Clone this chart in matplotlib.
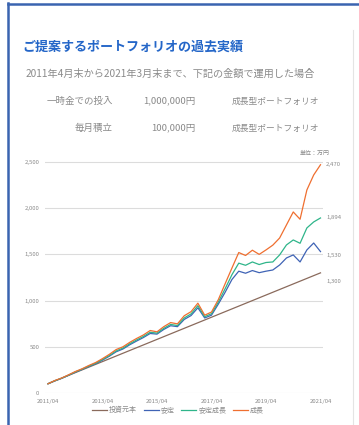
import numpy as np
import matplotlib
matplotlib.use("Agg")
from matplotlib import pyplot as plt
from matplotlib.lines import Line2D

plt.rcParams['font.family'] = ['Noto Sans CJK JP', 'DejaVu Sans']

# months since 2011/04, quarterly samples
months = list(range(0, 121, 3))

# valuation in 万円
principal = [100, 130, 160, 190, 220, 250, 280, 310, 340, 370, 400, 430, 460, 490,
             520, 550, 580, 610, 640, 670, 700, 730, 760, 790, 820, 850, 880, 910,
             940, 970, 1000, 1030, 1060, 1090, 1120, 1150, 1180, 1210, 1240, 1270, 1300]
stable = [100, 132, 158, 191, 225, 255, 288, 318, 356, 398, 446, 476, 522, 562,
          600, 644, 637, 688, 728, 718, 796, 838, 922, 812, 842, 962, 1090, 1228,
          1318, 1296, 1325, 1302, 1318, 1331, 1385, 1461, 1494, 1418, 1548, 1623, 1530]
balanced = [100, 133, 160, 193, 228, 258, 292, 322, 362, 405, 455, 486, 533, 574,
            612, 657, 648, 700, 742, 730, 812, 856, 945, 826, 858, 984, 1128, 1280,
            1405, 1382, 1418, 1390, 1412, 1418, 1494, 1602, 1656, 1620, 1786, 1851, 1894]
growth = [100, 135, 162, 196, 232, 262, 298, 330, 372, 418, 470, 500, 548, 590,
          628, 676, 662, 718, 762, 748, 836, 880, 972, 842, 876, 1010, 1182, 1352,
          1520, 1488, 1545, 1500, 1548, 1600, 1677, 1818, 1959, 1880, 2197, 2359, 2470]

series_names = ['投資元本', '安定', '安定成長', '成長']
series_colors = ['#8a6a5c', '#3f63b5', '#2fb58a', '#ef6f30']

xtick_pos = [0, 24, 48, 72, 96, 120]
xtick_labels = ['2011/04', '2013/04', '2015/04', '2017/04', '2019/04', '2021/04']
yticks = [0, 500, 1000, 1500, 2000, 2500]

W, H = 359, 425
fig = plt.figure(figsize=(W / 100, H / 100), dpi=100)

def fx(px):
    return px / W

def fy(py):
    return 1 - py / H

# card border
fig.add_artist(Line2D([fx(8), fx(8)], [fy(3), 0], color='#3a64b0', lw=1.8))
fig.add_artist(Line2D([fx(8), 1], [fy(4), fy(4)], color='#3a64b0', lw=1.8))
fig.add_artist(Line2D([fx(353), fx(353)], [fy(30), 0], color='#e4e4e4', lw=0.8))

grey = '#8a8a8a'
fig.text(fx(22), fy(46), 'ご提案するポートフォリオの過去実績', fontsize=9.4,
         fontweight='bold', color='#2466c8', va='center', ha='left')
fig.text(fx(26), fy(74), '2011年4月末から2021年3月末まで、下記の金額で運用した場合',
         fontsize=7.3, color=grey, va='center', ha='left')
rows = [('一時金での投入', '1,000,000円', '成長型ポートフォリオ', 101),
        ('毎月積立', '100,000円', '成長型ポートフォリオ', 128)]
for a, b, c, py in rows:
    fig.text(fx(113), fy(py), a, fontsize=6.8, color=grey, va='center', ha='right')
    fig.text(fx(195), fy(py), b, fontsize=6.8, color=grey, va='center', ha='right')
    fig.text(fx(232), fy(py), c, fontsize=6.3, color=grey, va='center', ha='left')

L, R, B, T = 45, 323, 393, 148
ax = fig.add_axes([fx(L), fy(B), fx(R) - fx(L), fy(T) - fy(B)])
ax.set_xlim(-1.32, 121.1)
ax.set_ylim(0, 2651)

for s in ax.spines.values():
    s.set_visible(False)
ax.set_yticks(yticks)
ax.set_yticklabels([f'{v:,}' for v in yticks])
ax.set_xticks(xtick_pos)
ax.set_xticklabels(xtick_labels)
ax.tick_params(length=0, labelsize=4.3, colors=grey, pad=4)
ax.grid(axis='y', color='#dcdcdc', lw=0.8)
ax.set_axisbelow(True)

data = [principal, stable, balanced, growth]
handles = []
for vals, name, c in zip(data, series_names, series_colors):
    h, = ax.plot(months, vals, color=c, lw=0.9, label=name)
    handles.append(h)

# end-of-period values
label_offsets = [-6, -3, 0, 0]
for vals, dy in zip(data, label_offsets):
    ax.annotate(f'{vals[-1]:,}', (months[-1], vals[-1]), xytext=(4, dy),
                textcoords='offset points', fontsize=4.3, color=grey,
                va='center', ha='left', annotation_clip=False)
ax.annotate('単位：万円', (months[-1], growth[-1]), xytext=(-4, 8),
            textcoords='offset points', fontsize=4.3, color=grey,
            va='center', ha='center', annotation_clip=False)

fig.legend(handles=handles, loc='center', bbox_to_anchor=(fx(178), fy(410)),
           ncol=4, frameon=False, fontsize=5, labelcolor=grey,
           handlelength=2.2, columnspacing=0.9, handletextpad=0.3)

fig.savefig('out.png', dpi=100)
